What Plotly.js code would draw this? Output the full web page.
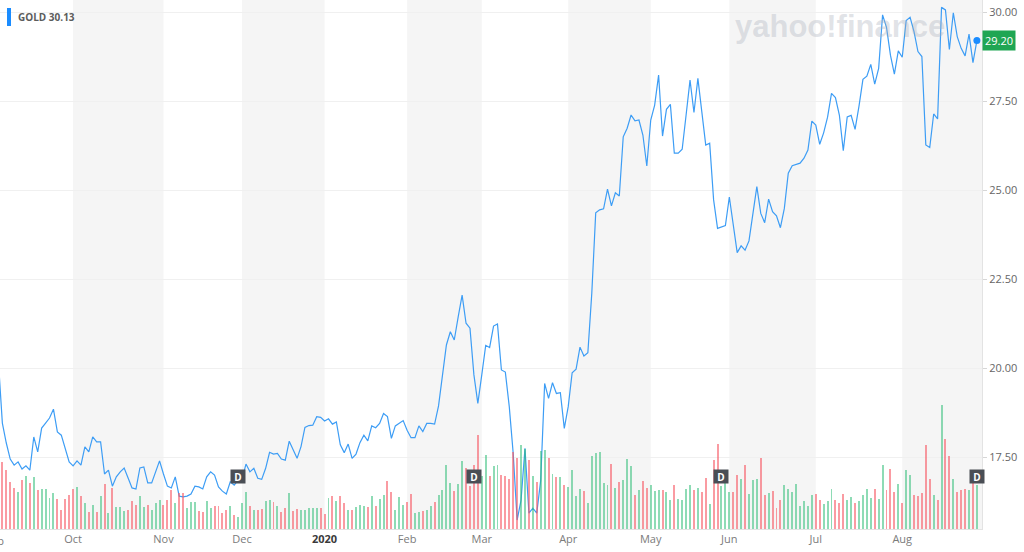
<!DOCTYPE html>
<html>
<head>
<meta charset="utf-8">
<script src="https://cdn.plot.ly/plotly-3.0.1.min.js"></script>
<style>html,body{margin:0;padding:0;background:#fff;}#chart{width:1024px;height:552px;}</style>
</head>
<body>
<div id="chart"></div>
<script>
// Trading-day index of the first value (Oct 1 2019 = 0)
const startIndex = -19;

// Daily close prices of GOLD, Sep 2019 - Aug 2020
const price = [
20.18,18.47,17.91,17.46,17.29,17.38,17.18,17.27,17.15,18.08,
17.66,18.33,18.47,18.61,18.86,18.22,18.13,17.77,17.38,
17.27,17.41,17.29,17.80,17.66,18.08,17.94,17.94,17.04,17.15,
16.70,16.96,17.10,17.21,16.93,16.65,16.62,17.21,17.24,16.79,
16.79,17.10,17.41,17.04,16.70,16.65,16.96,16.42,16.40,16.42,
16.48,16.70,16.68,16.62,16.96,17.10,17.01,16.68,16.56,16.48,
16.82,16.73,16.87,16.90,17.32,17.10,17.20,16.92,16.89,17.20,
17.65,17.60,17.62,17.46,17.43,17.96,17.73,17.48,17.81,18.35,
18.40,18.41,18.65,18.63,18.53,18.59,18.44,18.50,17.86,17.64,
17.88,17.48,17.60,17.92,18.13,17.97,18.39,18.34,18.46,18.74,
18.65,18.04,18.39,18.46,18.54,18.27,18.06,18.06,18.39,18.23,
18.46,18.46,18.44,18.95,19.75,20.66,21.03,20.80,21.45,22.06,
21.27,21.13,19.82,19.02,19.82,20.65,20.59,21.19,21.25,19.96,
19.90,18.93,17.62,15.75,16.31,17.76,15.94,16.08,15.94,16.87,
19.58,19.16,19.60,19.30,19.32,18.32,18.93,19.88,19.98,20.60,
20.35,20.44,22.11,24.37,24.45,24.48,25.03,24.56,24.93,24.84,
26.50,26.74,27.11,26.95,26.97,26.55,25.68,26.97,27.39,28.23,
26.52,27.27,27.41,26.04,26.04,26.15,27.11,28.09,27.18,28.14,
27.20,26.27,26.32,24.73,23.93,23.97,24.01,24.81,23.98,23.25,
23.44,23.32,23.58,24.35,25.10,24.35,24.09,24.75,24.40,24.28,
23.95,24.49,25.48,25.69,25.73,25.76,25.90,26.13,26.94,26.83,
26.29,26.61,27.05,27.72,27.60,27.11,26.11,27.06,27.10,26.71,
27.36,28.11,28.20,28.53,27.98,28.42,29.92,29.57,28.79,28.26,
28.91,28.73,29.76,29.85,29.45,28.89,28.75,26.27,26.20,27.14,
27.00,30.13,30.06,28.95,29.98,29.31,28.98,28.77,29.38,28.58,
29.20
];

// Daily volume (millions of shares), same days as price
const volume = [
35.0,33.4,29.5,23.4,20.4,18.7,24.5,26.5,23.2,25.9,
19.5,19.9,19.9,15.4,18.2,14.9,9.5,14.9,17.0,
20.0,20.9,16.7,12.9,8.7,12.0,8.7,16.5,22.4,7.9,
20.4,11.2,10.9,9.2,9.5,14.0,12.0,16.5,10.9,12.0,
9.5,13.2,14.5,12.0,14.5,19.5,12.9,18.2,18.2,10.7,
13.5,13.7,9.2,8.7,14.0,10.7,11.5,11.7,7.9,9.5,
11.5,7.0,5.9,12.9,18.7,11.7,9.5,9.5,9.9,14.2,
14.5,13.7,11.5,8.7,10.4,17.9,9.2,10.0,9.5,9.5,
10.4,10.4,10.5,10.4,7.5,15.7,16.3,13.8,16.7,13.0,
9.3,9.3,11.0,11.8,11.7,11.0,16.3,11.7,15.0,16.8,
24.2,18.5,9.7,15.8,12.2,13.7,17.7,8.0,8.5,9.2,
9.3,11.3,13.3,17.2,19.3,31.8,23.0,18.8,22.7,33.8,
30.5,21.3,32.2,46.8,26.3,37.2,26.7,31.7,32.2,27.0,
26.3,25.2,38.3,35.5,42.2,40.0,34.7,26.3,23.3,38.8,
39.3,35.5,27.7,25.8,25.8,22.2,21.0,29.7,16.3,20.0,
18.8,13.0,36.3,38.0,38.3,23.0,22.2,32.7,20.5,23.3,
24.3,35.2,31.7,17.2,19.7,23.8,20.5,22.2,18.8,19.3,
19.3,18.3,14.3,21.8,15.0,14.7,20.0,21.8,19.7,20.5,
18.5,25.5,12.7,34.7,42.7,21.7,26.3,18.5,18.3,26.8,
25.0,32.2,17.7,24.5,25.0,35.5,17.2,18.0,18.8,10.5,
14.3,21.8,20.0,18.5,22.7,11.3,13.8,11.7,17.2,17.5,
14.7,12.7,13.8,20.0,14.7,13.0,17.7,14.7,15.8,13.0,
13.8,16.8,20.0,15.5,20.0,15.2,32.2,19.3,30.0,18.5,
22.7,13.0,29.7,27.2,17.2,16.7,18.0,41.8,25.0,17.2,
14.3,62.2,45.2,36.3,25.2,18.5,19.3,20.0,19.7,24.7,
22.2
];

// Month axis: first trading day index of each month and its label
const monthStarts = [0, 23, 43, 64, 85, 104, 126, 147, 167, 189, 211];
const monthLabels = ['Oct','Nov','Dec','<b><span style="color:#3a3a3a">2020</span></b>','Feb','Mar','Apr','May','Jun','Jul','Aug'];
const shadedMonths = [0, 2, 4, 6, 8, 10]; // Oct, Dec, Feb, Apr, Jun, Aug
const dividendDays = [42, 102, 165, 230];
const priceTicks = [17.5, 20, 22.5, 25, 27.5, 30];

const xRange = [-18.6, 231.3];
const yRange = [15.498, 30.337];

const xs = price.map((_, i) => startIndex + i);
const volColors = volume.map((_, i) =>
  (i > 0 && price[i] >= price[i-1]) ? 'rgba(50,190,120,0.55)' : 'rgba(246,88,100,0.6)');

const lastX = xs[xs.length - 1];
const lastP = price[price.length - 1];
const maxP = Math.max(...price);

const traces = [
  { type: 'bar', x: xs, y: volume, yaxis: 'y2', marker: { color: volColors, line: {width: 0} },
    width: 0.5, hoverinfo: 'skip' },
  { type: 'scatter', mode: 'lines', x: xs, y: price, line: { color: '#3d9df5', width: 1.2 },
    hoverinfo: 'skip' },
  { type: 'scatter', mode: 'markers', x: [lastX], y: [lastP], marker: { color: '#1a8cff', size: 7 },
    hoverinfo: 'skip' }
];

const shapes = shadedMonths.map(m => ({
  type: 'rect', xref: 'x', yref: 'paper',
  x0: monthStarts[m], x1: (m + 1 < monthStarts.length) ? monthStarts[m + 1] : xRange[1],
  y0: 0, y1: 1, fillcolor: '#f5f5f5', line: { width: 0 }, layer: 'below'
}));
shapes.push({ type: 'rect', xref: 'paper', yref: 'paper', x0: 7/982, x1: 11/982,
  y0: 1 - 26/529, y1: 1 - 8/529, fillcolor: '#1a8cff', line: { width: 0 } });

const annotations = [
  { xref: 'paper', yref: 'paper', x: 16/982, y: 1 - 17/529, xanchor: 'left', yanchor: 'middle',
    text: '<b>GOLD ' + maxP.toFixed(2) + '</b>', showarrow: false,
    font: { family: 'Open Sans, sans-serif', size: 10, color: '#5c5c5c' } },
  { xref: 'paper', yref: 'paper', x: 840/982, y: 1 - 26/529, xanchor: 'center', yanchor: 'middle',
    text: '<b>yahoo!finance</b>', showarrow: false,
    font: { family: 'Liberation Sans, Arial, sans-serif', size: 31, color: 'rgba(170,176,188,0.36)' } },
  { xref: 'paper', yref: 'y', x: 1, y: lastP, xanchor: 'left', yanchor: 'middle', xshift: 0,
    text: lastP.toFixed(2), showarrow: false, bgcolor: '#1fa653', borderpad: 2,
    font: { family: 'Open Sans, sans-serif', size: 11, color: '#ffffff' } },
  { xref: 'paper', yref: 'paper', x: -5.6/982, y: -11/529, xanchor: 'center', yanchor: 'middle',
    text: 'Sep', showarrow: false, font: { family: 'Open Sans, sans-serif', size: 11, color: '#7b7b7b' } }
];
dividendDays.forEach(d => annotations.push({
  xref: 'x', yref: 'paper', x: d, y: 1 - 476/529, xanchor: 'center', yanchor: 'middle',
  text: '<b>D</b>', showarrow: false, bgcolor: '#4a4e55', borderpad: 2, width: 10, height: 9,
  font: { family: 'Open Sans, sans-serif', size: 10, color: '#ffffff' }
}));

const layout = {
  width: 1024, height: 552,
  margin: { l: 0, r: 42, t: 0, b: 23, pad: 0 },
  paper_bgcolor: '#ffffff', plot_bgcolor: '#ffffff',
  showlegend: false,
  font: { family: 'Open Sans, sans-serif', size: 11, color: '#7b7b7b' },
  xaxis: { range: xRange, tickmode: 'array', tickvals: monthStarts, ticktext: monthLabels,
    showgrid: false, zeroline: false, showline: true, linecolor: '#e3e3e3', ticks: '',
    tickfont: { size: 11, color: '#7b7b7b' }, fixedrange: true },
  yaxis: { range: yRange, side: 'right', tickmode: 'array', tickvals: priceTicks, tickformat: '.2f',
    showgrid: true, gridcolor: '#f0f0f0', zeroline: false, showline: true, linecolor: '#e3e3e3',
    ticks: 'outside', ticklen: 4, tickcolor: '#d6d6d6', tickfont: { size: 11, color: '#666666' },
    fixedrange: true },
  yaxis2: { overlaying: 'y', range: [0, 264.5], visible: false, fixedrange: true },
  shapes: shapes,
  annotations: annotations,
  bargap: 0
};

Plotly.newPlot('chart', traces, layout, { displayModeBar: false, staticPlot: true });
</script>
</body>
</html>
